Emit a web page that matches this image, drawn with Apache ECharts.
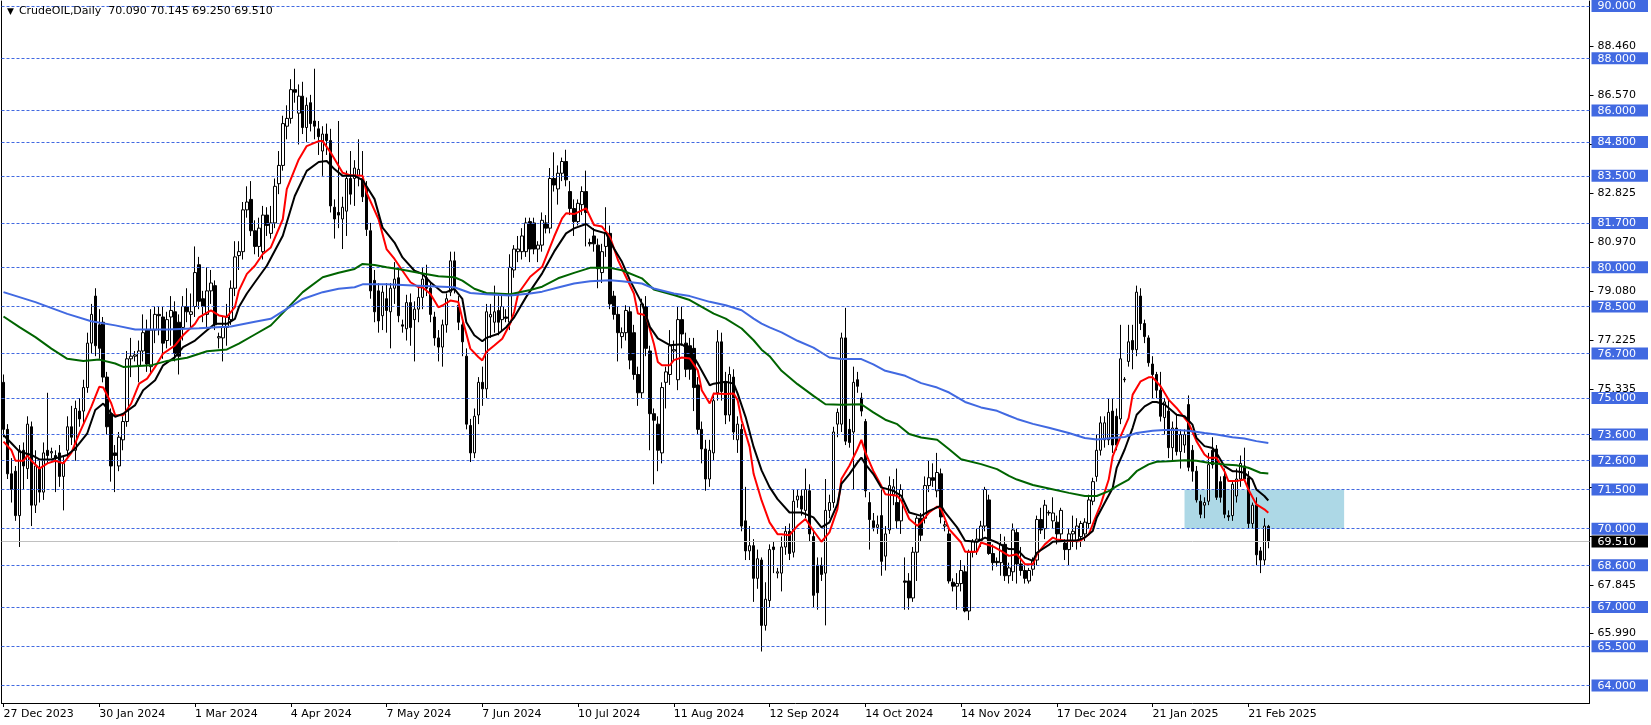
<!DOCTYPE html>
<html><head><meta charset="utf-8">
<script src="https://cdn.jsdelivr.net/npm/echarts@6/dist/echarts.min.js"></script>
<style>html,body{margin:0;padding:0;background:#fff;}#c{width:1651px;height:725px;}</style>
</head><body><div id="c"></div>
<script>
const symbolName = 'CrudeOIL,Daily';
const dateTicks = ['27 Dec 2023','30 Jan 2024','1 Mar 2024','4 Apr 2024','7 May 2024','7 Jun 2024','10 Jul 2024','11 Aug 2024','12 Sep 2024','14 Oct 2024','14 Nov 2024','17 Dec 2024','21 Jan 2025','21 Feb 2025'];
const barsPerTick = 24;
const totalSlots = 398;

const opens = [
75.6,73.8,72.1,72.2,70.5,73.0,72.3,73.9,70.9,72.3,
71.4,73.0,72.9,72.8,72.9,72.0,73.0,73.9,73.0,74.5,
74.5,75.4,77.1,78.9,77.8,77.9,75.8,74.4,72.9,72.4,
73.4,74.1,76.5,76.6,76.25,76.8,77.6,76.2,77.6,78.2,
78.1,77.2,78.1,78.3,77.9,77.7,78.5,78.2,78.5,80.1,
78.8,78.2,79.1,79.3,77.3,77.3,77.7,78.0,79.2,80.45,
80.6,82.2,82.6,81.4,80.8,80.6,82.0,81.3,81.7,83.2,
83.9,85.4,85.7,86.8,85.9,86.55,85.35,86.3,85.6,85.3,
84.45,85.1,84.85,82.3,82.1,81.85,82.15,83.4,83.4,83.5,
83.4,83.05,81.4,79.5,79.1,78.15,78.8,78.3,79.2,79.6,
77.8,77.65,78.65,78.0,78.4,78.85,79.6,79.2,78.1,77.3,
76.95,77.8,79.05,80.25,78.55,77.8,76.6,73.95,72.9,74.35,
75.6,75.35,78.1,77.9,78.35,78.0,78.1,77.9,79.9,80.6,
80.6,80.6,81.75,81.7,80.7,80.85,81.7,81.5,83.4,83.0,
83.6,84.05,82.9,82.25,81.75,82.4,82.9,80.95,81.2,80.85,
79.8,80.8,81.3,78.9,78.2,77.35,77.5,78.3,77.5,75.9,
75.2,78.5,76.8,74.4,74.0,72.9,75.6,75.9,76.8,75.7,
78.0,77.1,77.0,76.9,75.5,73.8,73.05,71.9,72.9,75.2,
77.15,75.6,74.35,75.8,73.4,73.8,70.3,69.15,69.35,68.1,
68.8,66.3,67.25,69.3,68.3,68.3,69.3,69.9,69.1,71.1,
71.25,70.7,71.45,69.7,68.6,68.6,68.3,70.7,71.0,74.0,
74.0,77.3,73.8,73.7,75.7,75.0,74.1,71.0,70.3,70.05,
70.5,68.95,69.95,71.3,71.0,70.3,68.0,68.0,67.35,69.1,
70.4,70.4,71.65,71.95,71.45,72.1,70.1,69.8,67.95,67.8,
67.9,68.35,66.85,69.1,69.5,69.55,70.1,71.1,69.05,68.75,
68.7,69.4,68.2,68.35,69.85,68.65,68.4,68.0,68.45,68.8,
70.35,70.0,70.6,70.3,70.25,69.8,69.45,69.2,69.8,69.5,
69.7,69.8,70.2,71.05,72.0,73.0,73.4,73.4,74.5,74.3,
74.2,75.7,76.4,77.2,76.85,78.9,77.85,77.3,76.3,75.9,
75.3,74.25,74.5,73.1,73.85,72.95,73.2,74.75,73.0,72.2,
71.05,70.9,71.05,73.0,73.05,71.8,72.0,70.5,70.5,71.25,
71.9,72.4,71.95,70.2,70.9,69.15,68.8,70.09
];
const highs = [
75.9,74.0,72.7,72.4,73.2,73.3,74.3,74.1,73.0,72.6,
73.3,75.2,73.1,73.0,73.2,72.8,74.3,74.7,74.9,75.0,
75.7,77.5,78.6,79.2,78.4,78.1,76.0,74.6,73.2,73.7,
74.3,76.8,77.3,76.8,77.2,78.2,78.0,78.4,78.5,78.5,
78.5,78.3,78.9,78.7,78.2,78.9,79.2,79.0,80.8,80.4,
79.1,80.0,79.9,79.5,77.5,78.1,78.6,79.5,81.0,81.0,
82.5,83.1,83.3,81.8,81.9,82.35,82.3,82.35,83.4,84.45,
85.8,86.2,87.2,87.6,87.0,87.1,86.5,86.6,87.6,85.6,
85.4,85.5,85.3,82.6,85.6,82.7,83.7,84.45,84.1,84.9,
84.45,83.3,81.7,79.9,79.4,79.3,79.4,79.4,80.2,80.0,
78.0,78.95,79.0,78.7,79.3,80.0,80.1,79.4,78.3,77.6,
78.0,79.0,80.6,80.6,78.9,78.1,76.9,74.2,74.6,75.8,
76.2,78.6,78.6,79.3,78.9,78.9,78.4,80.5,80.85,81.2,
81.5,81.9,81.9,81.9,81.0,82.1,82.0,83.8,84.4,83.9,
84.2,84.5,83.3,82.6,82.6,83.1,83.7,81.1,81.5,81.1,
80.9,82.3,81.6,79.1,78.5,77.7,78.55,78.5,77.8,76.2,
78.8,78.9,77.0,74.6,74.3,75.6,76.2,77.6,77.2,78.5,
78.5,77.5,77.3,77.3,75.8,74.1,73.4,73.4,75.2,77.6,
77.5,76.0,76.2,76.1,74.3,74.0,71.6,70.1,69.6,69.2,
68.9,67.95,69.4,69.5,68.5,69.7,70.1,70.2,71.5,71.5,
71.5,72.3,71.7,69.9,68.9,68.9,71.9,71.3,73.9,74.6,
77.5,78.45,74.2,76.2,76.0,75.2,74.2,71.4,70.6,70.5,
71.5,70.1,72.0,71.9,72.3,71.7,68.9,68.3,69.3,70.5,
70.6,72.0,72.6,72.5,72.9,72.3,70.3,70.0,68.1,68.3,
68.8,68.6,69.2,69.6,70.0,70.3,71.6,71.3,69.4,68.9,
69.8,69.7,68.7,70.2,70.0,69.3,68.6,68.5,68.9,70.5,
70.8,71.1,70.7,71.2,70.5,70.8,69.6,70.0,70.5,70.4,
70.3,70.4,71.3,71.95,73.6,74.3,74.3,75.0,75.0,74.6,
77.8,75.8,77.8,77.8,79.3,79.2,78.0,77.4,76.6,76.0,
76.0,75.0,75.0,74.1,74.4,73.8,73.8,75.1,73.2,72.4,
71.3,71.2,72.9,73.5,73.2,72.0,72.3,70.7,71.8,72.3,
72.8,73.1,72.2,71.0,71.2,69.3,70.4,70.145
];
const lows = [
73.5,71.9,71.0,70.3,69.3,71.5,71.9,70.1,70.6,71.0,
71.1,72.5,72.7,71.4,71.6,70.7,72.7,73.2,72.6,73.9,
74.0,75.2,76.7,76.6,76.5,75.6,73.6,71.8,71.4,72.2,
73.0,73.9,75.8,76.4,75.6,76.4,76.0,75.9,77.1,77.4,
76.5,76.9,77.0,76.4,75.9,77.2,77.9,77.7,78.1,78.4,
77.9,77.7,78.6,77.6,76.9,76.4,77.0,77.8,78.9,79.9,
80.3,81.9,81.2,80.5,80.4,80.3,81.2,81.1,81.5,82.8,
83.7,84.9,85.5,86.3,84.7,85.1,84.8,85.2,84.9,84.3,
83.5,84.3,82.1,81.1,81.5,80.7,81.2,82.4,82.35,83.1,
82.5,81.2,78.8,77.9,77.5,77.6,77.5,76.9,78.6,77.9,
77.5,77.2,77.0,76.4,77.9,78.4,78.9,77.9,77.0,76.4,
76.2,77.5,78.9,79.0,77.6,76.6,73.8,72.55,72.7,74.0,
74.7,75.0,77.3,77.5,77.4,77.6,77.9,77.6,79.6,80.2,
80.3,80.4,80.2,80.5,80.2,80.6,81.3,81.3,82.9,82.4,
83.3,83.1,82.0,81.2,81.6,82.0,80.8,80.8,80.6,79.2,
79.4,80.4,78.4,78.0,76.4,76.9,77.2,76.1,75.7,74.7,
75.0,76.6,73.0,71.7,72.2,72.5,74.6,75.5,76.4,75.3,
77.0,75.8,75.7,74.5,73.6,72.5,71.45,71.6,72.6,74.9,
74.9,74.0,74.1,73.4,72.9,69.9,68.8,68.8,67.2,67.7,
65.3,66.1,67.0,68.3,68.1,67.6,69.0,68.8,68.9,70.8,
70.5,70.4,69.5,67.0,66.9,68.0,66.3,70.4,70.8,73.5,
73.7,73.2,73.1,71.5,75.2,74.3,71.2,69.2,69.9,69.8,
68.2,68.4,69.8,70.9,70.0,69.8,66.9,66.9,67.2,68.0,
69.5,70.2,71.4,71.6,71.2,70.2,69.9,67.9,67.6,66.9,
67.6,66.8,66.5,68.9,69.0,69.3,69.9,69.0,68.4,68.55,
68.2,68.0,67.9,68.0,67.9,68.2,67.9,67.9,68.2,68.6,
69.8,69.6,70.5,70.0,69.4,69.5,68.8,68.6,69.3,69.2,
69.3,69.5,70.0,70.9,71.8,72.8,73.1,73.2,72.9,73.0,
74.0,75.6,76.2,76.1,76.6,77.6,77.1,76.2,75.0,75.0,
74.1,73.6,72.7,72.6,72.8,72.3,72.9,72.2,71.8,71.0,
70.4,70.4,70.9,72.3,71.1,71.0,70.4,70.3,70.3,71.0,
71.6,71.8,70.0,70.0,68.6,68.3,68.6,69.25
];
const closes = [
73.8,72.1,71.5,70.5,73.0,72.4,74.0,70.9,72.4,71.4,
72.9,72.8,72.95,72.7,72.0,72.5,73.9,73.5,74.6,74.2,
75.4,77.1,78.2,77.0,76.9,75.8,73.9,72.4,72.8,73.5,
74.1,76.5,76.6,76.65,76.8,77.5,76.3,77.6,78.2,78.15,
77.1,78.0,78.35,76.7,76.6,78.5,78.3,78.3,79.8,78.7,
78.5,79.1,79.4,77.8,77.35,77.7,78.1,79.2,80.4,80.6,
82.2,82.5,81.4,80.8,81.5,82.0,81.6,81.7,83.1,83.9,
85.5,85.7,86.8,86.7,86.55,85.35,86.2,85.5,85.4,85.0,
85.1,84.85,82.35,81.85,82.0,82.3,83.4,82.8,83.8,83.75,
82.7,81.45,79.1,78.3,77.95,79.05,78.35,79.2,79.55,78.15,
77.75,78.65,77.7,78.4,78.85,79.55,79.2,78.2,77.3,76.95,
77.8,78.8,80.25,79.25,77.9,77.15,74.0,72.9,74.3,75.6,
75.35,78.3,78.2,78.3,77.9,78.5,78.05,80.0,80.7,80.7,
81.2,81.7,80.7,80.7,80.85,81.8,81.5,83.4,83.15,83.6,
84.05,83.35,82.25,81.75,82.45,82.9,82.1,80.9,80.9,79.95,
80.6,81.3,78.6,78.2,77.5,77.5,78.35,76.45,75.9,75.2,
78.6,76.9,74.4,74.15,73.0,75.4,76.0,77.0,76.85,78.0,
77.45,76.1,76.1,75.4,73.8,73.05,71.9,73.0,74.9,77.15,
75.25,74.35,75.9,73.7,74.0,70.1,69.15,69.35,68.1,68.85,
66.3,67.3,69.2,69.2,68.35,69.3,69.9,69.05,71.05,71.25,
70.75,71.5,69.8,67.45,67.55,68.25,70.7,71.0,73.7,74.45,
77.3,73.35,73.3,75.6,75.45,74.5,71.45,70.35,70.05,70.15,
68.75,69.8,71.65,71.6,70.3,71.5,67.95,67.35,69.1,70.4,
69.75,71.65,71.95,71.85,72.15,70.45,70.15,68.0,67.8,67.9,
68.4,66.85,69.1,69.5,69.6,70.1,71.5,69.05,68.7,68.7,
69.4,68.2,68.5,69.95,68.65,68.4,68.1,68.4,68.8,70.35,
69.95,70.9,70.62,70.6,69.8,70.7,69.2,69.8,69.9,70.1,
70.2,70.25,71.1,71.8,73.0,74.05,74.05,74.45,73.2,73.2,
76.5,75.72,77.15,76.85,79.05,77.85,77.35,76.35,75.9,75.3,
74.3,74.85,73.1,73.85,72.95,73.6,73.6,72.35,72.2,71.1,
70.55,71.0,72.45,72.45,71.2,71.2,70.55,70.45,71.7,71.9,
72.5,71.9,70.2,70.9,69.0,68.8,70.1,69.51
];

// Moving averages: [bar index, value]
const maRed = [[0,73.33],[2,73.0],[3,72.6],[5,72.6],[6,72.8],[7,72.6],[9,72.3],[11,72.5],[13,72.6],[15,72.5],[17,72.9],[19,73.65],[22,74.66],[24,75.43],[25,75.4],[27,74.8],[28,74.34],[30,74.34],[32,74.79],[34,75.55],[36,75.74],[38,76.19],[40,76.7],[43,77.01],[45,77.4],[48,77.84],[49,78.09],[52,78.35],[54,78.16],[56,78.1],[58,78.48],[59,79.11],[61,79.75],[63,80.06],[65,80.51],[67,80.76],[70,81.84],[71,82.99],[74,84.13],[76,84.64],[79,84.83],[80,84.83],[82,84.39],[85,83.62],[87,83.52],[90,83.5],[91,82.86],[94,81.84],[96,80.7],[98,80.32],[100,79.87],[102,79.43],[104,79.24],[105,79.24],[107,78.98],[109,78.47],[110,78.54],[112,78.73],[114,78.67],[115,78.03],[117,76.89],[119,76.57],[120,76.44],[121,76.76],[123,77.01],[125,77.27],[127,77.85],[128,78.3],[129,79.0],[132,79.64],[135,80.02],[138,81.17],[140,81.87],[141,82.07],[143,82.04],[146,82.26],[148,81.62],[150,81.56],[152,81.17],[154,80.28],[156,79.64],[158,79.0],[159,78.23],[161,78.17],[163,77.08],[164,76.38],[165,76.25],[167,76.25],[168,76.45],[170,76.55],[172,76.51],[174,76.06],[175,75.3],[177,74.79],[178,75.17],[181,75.15],[183,75.17],[184,74.91],[185,74.15],[187,73.13],[188,72.1],[190,71.08],[192,70.24],[194,69.79],[195,69.79],[197,69.75],[199,70.11],[201,70.37],[203,69.92],[205,69.5],[207,69.86],[209,70.75],[210,71.9],[212,72.41],[214,73.04],[215,73.4],[216,72.92],[218,72.21],[220,71.64],[221,71.32],[224,71.26],[225,71.07],[227,70.37],[229,70.11],[230,70.24],[232,70.62],[234,70.85],[235,70.75],[237,69.98],[240,69.47],[241,69.12],[244,69.12],[245,69.47],[248,69.32],[250,69.15],[252,68.96],[254,69.02],[256,68.64],[258,68.64],[259,69.02],[261,69.4],[263,69.66],[264,69.59],[266,69.55],[268,69.53],[270,69.55],[272,69.78],[273,70.17],[275,70.93],[277,71.88],[278,72.77],[280,73.54],[282,74.24],[283,75.13],[285,75.64],[287,75.79],[288,75.79],[290,75.45],[292,74.94],[294,74.62],[296,74.24],[297,74.05],[299,73.35],[301,72.84],[302,72.71],[304,72.71],[306,72.2],[307,71.82],[309,71.82],[311,71.88],[312,71.5],[314,70.93],[316,70.74],[317,70.61]];
const maBlack = [[0,73.58],[2,73.27],[4,72.95],[7,72.82],[9,72.65],[12,72.65],[16,72.82],[18,73.07],[21,73.65],[23,74.54],[25,74.79],[27,74.41],[28,74.28],[30,74.4],[33,74.73],[35,75.3],[38,75.68],[40,76.25],[43,76.57],[45,76.95],[48,77.2],[51,77.59],[53,77.84],[56,77.84],[58,78.03],[59,78.48],[61,79.0],[63,79.43],[66,80.06],[70,81.21],[73,82.73],[76,83.69],[79,84.03],[81,84.07],[83,83.75],[85,83.5],[88,83.5],[90,83.34],[93,82.61],[95,81.52],[98,80.95],[100,80.38],[103,79.87],[105,79.75],[107,79.43],[110,79.05],[111,79.05],[113,79.18],[115,78.79],[116,77.9],[118,77.4],[120,77.17],[121,77.3],[124,77.46],[126,77.71],[128,78.09],[131,78.87],[135,79.77],[138,80.6],[141,81.3],[143,81.49],[146,81.66],[148,81.43],[151,81.3],[153,80.72],[155,80.21],[157,79.51],[160,78.62],[162,77.72],[164,77.28],[167,77.02],[170,77.06],[172,76.83],[174,76.32],[177,75.49],[178,75.55],[181,75.62],[183,75.55],[184,75.17],[186,74.27],[188,73.13],[190,72.23],[192,71.59],[194,71.13],[197,70.62],[200,70.62],[203,70.43],[205,70.05],[207,70.24],[209,70.94],[210,71.71],[212,72.09],[214,72.53],[215,72.72],[216,72.47],[218,72.09],[220,71.58],[223,71.45],[225,71.26],[227,70.62],[230,70.49],[232,70.68],[235,70.88],[236,70.62],[239,70.05],[241,69.54],[244,69.5],[246,69.66],[249,69.47],[252,69.22],[254,69.21],[256,68.89],[258,68.77],[259,69.08],[262,69.38],[263,69.5],[267,69.55],[269,69.55],[271,69.66],[273,69.91],[274,70.42],[276,70.99],[278,71.56],[279,72.33],[281,73.03],[283,73.86],[284,74.36],[286,74.68],[288,74.85],[289,74.85],[291,74.75],[293,74.49],[294,74.36],[296,74.3],[298,73.98],[299,73.47],[301,73.16],[303,73.09],[304,72.9],[306,72.39],[308,72.2],[309,72.2],[311,72.14],[313,71.88],[314,71.5],[316,71.25],[317,71.08]];
const maGreen = [[0,78.12],[4,77.71],[8,77.33],[12,76.89],[16,76.5],[20,76.42],[24,76.47],[28,76.32],[30,76.19],[37,76.25],[41,76.42],[46,76.54],[51,76.79],[56,76.86],[59,77.08],[63,77.43],[67,77.78],[71,78.41],[75,79.05],[80,79.62],[84,79.79],[88,79.94],[90,80.13],[93,80.09],[96,80.0],[100,79.91],[104,79.79],[109,79.66],[113,79.62],[115,79.49],[118,79.18],[121,79.02],[127,78.97],[132,79.13],[135,79.26],[139,79.58],[143,79.79],[147,79.98],[152,79.98],[155,79.89],[160,79.58],[163,79.15],[168,78.94],[172,78.75],[175,78.49],[178,78.23],[181,78.04],[185,77.66],[188,77.21],[190,76.85],[192,76.6],[195,76.04],[199,75.53],[203,75.08],[206,74.76],[210,74.74],[215,74.76],[218,74.45],[221,74.17],[224,74.0],[227,73.62],[230,73.49],[234,73.4],[237,73.04],[240,72.66],[245,72.47],[249,72.28],[252,72.02],[254,71.88],[258,71.67],[262,71.54],[267,71.37],[271,71.25],[274,71.25],[277,71.44],[279,71.63],[282,71.88],[284,72.2],[287,72.46],[289,72.56],[292,72.58],[296,72.62],[299,72.6],[302,72.52],[306,72.46],[309,72.43],[312,72.33],[315,72.14],[317,72.11]];
const maBlue = [[0,79.05],[8,78.67],[16,78.22],[22,77.94],[28,77.78],[33,77.62],[41,77.62],[49,77.67],[57,77.74],[63,77.92],[67,78.03],[71,78.41],[75,78.79],[80,79.05],[84,79.18],[88,79.24],[90,79.35],[96,79.35],[104,79.3],[113,79.24],[117,79.02],[121,78.97],[127,78.92],[132,79.0],[135,79.07],[139,79.23],[143,79.38],[147,79.47],[152,79.51],[155,79.47],[160,79.38],[163,79.19],[168,79.0],[172,78.9],[177,78.68],[181,78.55],[185,78.36],[188,78.04],[190,77.85],[192,77.7],[195,77.51],[199,77.19],[203,76.93],[207,76.55],[210,76.49],[215,76.49],[218,76.29],[221,76.04],[226,75.85],[230,75.57],[234,75.4],[237,75.21],[241,74.85],[245,74.64],[249,74.51],[252,74.32],[254,74.2],[258,74.01],[262,73.86],[267,73.66],[271,73.47],[274,73.41],[278,73.47],[281,73.51],[284,73.66],[288,73.75],[291,73.78],[294,73.78],[297,73.75],[301,73.66],[304,73.6],[308,73.5],[311,73.45],[314,73.35],[317,73.28]];

const levels = [90,88,86,84.8,83.5,81.7,80,78.5,76.7,75,73.6,72.6,71.5,70,68.6,67,65.5,64];
const scaleLabels = [88.46,86.57,82.825,80.97,79.08,77.225,75.335,67.845,65.99];
const scaleTicks = [88.46,86.57,84.7,82.825,80.97,79.08,77.225,75.335,73.46,71.59,69.72,67.845,65.99];
const zoneBars = [296, 336];
const zonePrices = [71.5, 70.0];

const FONT = 'DejaVu Sans';
const last = closes.length - 1;
const lastClose = closes[last];
const categories = Array.from({length: totalSlots}, (_, i) => String(i));
const candleData = opens.map((o, i) => [o, closes[i], lows[i], highs[i]]);
const isTick = (i) => i % barsPerTick === 0 && (i / barsPerTick) < dateTicks.length;

const chart = echarts.init(document.getElementById('c'), null, {renderer: 'canvas'});
const maLine = (name, data, color) => ({
  name, type: 'line', data, showSymbol: false, symbol: 'none', z: 6,
  lineStyle: {color, width: 2}, silent: true, animation: false
});

chart.setOption({
  animation: false,
  backgroundColor: '#ffffff',
  title: {
    left: 7, top: 6, padding: 0,
    text: '{a|▼}{b|' + symbolName + '  ' + [opens[last], highs[last], lows[last], closes[last]].map(v => v.toFixed(3)).join(' ') + '}',
    textStyle: {
      fontWeight: 'normal',
      rich: {
        a: {fontFamily: FONT, fontSize: 9, fontWeight: 'normal', color: '#000', padding: [0, 5, 0, 0]},
        b: {fontFamily: FONT, fontSize: 11, fontWeight: 'normal', color: '#000'}
      }
    }
  },
  grid: {left: 1.5, top: 0, width: totalSlots * 4, height: 703, containLabel: false},
  xAxis: {
    type: 'category', data: categories, boundaryGap: true,
    axisLine: {show: true, lineStyle: {color: '#000', width: 1}},
    axisTick: {show: true, alignWithLabel: true, length: 4, interval: (i) => isTick(i), lineStyle: {color: '#000'}},
    axisLabel: {
      show: true, interval: (i) => isTick(i), align: 'left', margin: 6,
      fontFamily: FONT, fontSize: 11, color: '#000',
      formatter: (v, i) => isTick(i) ? dateTicks[i / barsPerTick] : ''
    },
    splitLine: {show: false}
  },
  yAxis: [{
    type: 'value', position: 'right', min: 63.33, max: 90.19, scale: true,
    axisLine: {show: true, onZero: false, lineStyle: {color: '#000', width: 1}},
    axisTick: {show: true, length: 4, inside: false, customValues: scaleTicks, lineStyle: {color: '#000'}},
    splitLine: {show: false},
    axisLabel: {
      show: true, margin: 2, align: 'left',
      customValues: [...scaleLabels, ...levels, lastClose],
      fontFamily: FONT, fontSize: 11,
      formatter: (v) => {
        const t = v.toFixed(3);
        if (v === lastClose) return '{pr|' + t + '}';
        if (levels.indexOf(v) >= 0) return '{lv|' + t + '}';
        return '{tk|' + t + '}';
      },
      rich: {
        lv: {fontFamily: FONT, fontSize: 11, color: '#fff', backgroundColor: '#4169E1', padding: [1, 12, 0, 6], lineHeight: 12},
        pr: {fontFamily: FONT, fontSize: 11, color: '#fff', backgroundColor: '#000', padding: [1, 12, 0, 6], lineHeight: 12},
        tk: {fontFamily: FONT, fontSize: 11, color: '#000', padding: [0, 0, 0, 6]}
      }
    }
  }, {
    type: 'value', position: 'left', min: 63.33, max: 90.19, scale: true,
    axisLine: {show: true, onZero: false, lineStyle: {color: '#000', width: 1}},
    axisTick: {show: false}, axisLabel: {show: false}, splitLine: {show: false}
  }],
  series: [
    {
      name: 'CrudeOIL', type: 'candlestick', data: candleData, barWidth: 3, z: 3,
      yAxisIndex: 0,
      itemStyle: {color: '#ffffff', color0: '#000000', borderColor: '#000000', borderColor0: '#000000', borderWidth: 1},
      markArea: {
        silent: true, z: 1,
        itemStyle: {color: '#ADD8E6', opacity: 1},
        data: [[{xAxis: zoneBars[0], yAxis: zonePrices[0]}, {xAxis: zoneBars[1], yAxis: zonePrices[1]}]]
      },
      markLine: {
        silent: true, symbol: ['none', 'none'], animation: false,
        label: {show: false},
        lineStyle: {color: '#4169E1', type: [3, 2], width: 1},
        data: [
          ...levels.map(v => ({yAxis: v})),
          {yAxis: lastClose, lineStyle: {color: '#C0C0C0', type: 'solid', width: 1}}
        ]
      }
    },
    maLine('MA fast', maRed, '#FF0000'),
    maLine('MA slow', maBlack, '#000000'),
    maLine('MA 100', maGreen, '#006400'),
    maLine('MA 200', maBlue, '#4169E1')
  ]
});
</script>
</body></html>
